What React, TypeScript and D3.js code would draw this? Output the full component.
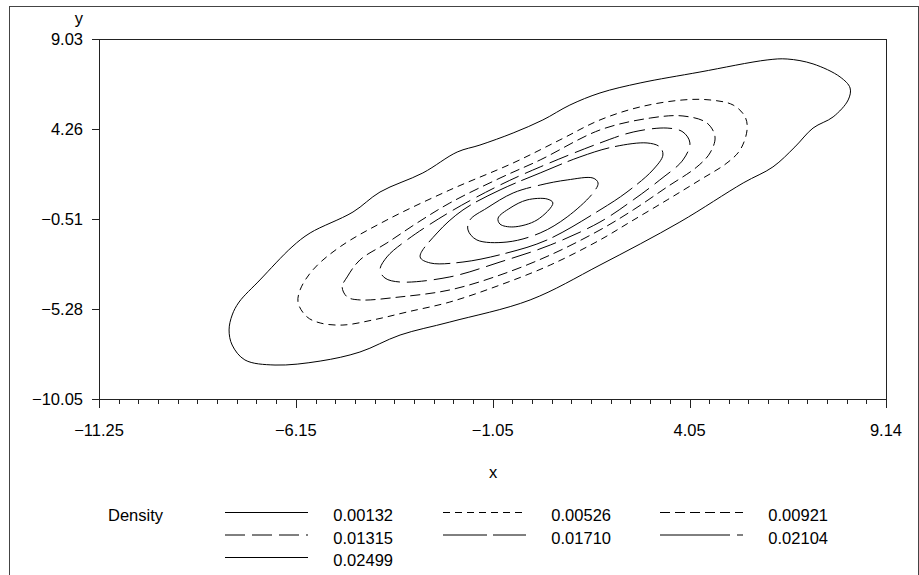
import React, { useEffect, useRef } from "react";
import * as d3 from "d3";

// axis ticks
const xTicks = [-11.25, -6.15, -1.05, 4.05, 9.14];
const yTicks = [-10.05, -5.28, -0.51, 4.26, 9.03];

// contour levels (density)
const levels = [0.00132, 0.00526, 0.00921, 0.01315, 0.0171, 0.02104, 0.02499];

// contour outlines in data units [x, y]
const c00132: [number, number][] = [
  [-7.88, -6.39], [-7.8, -7.19], [-7.47, -7.98], [-6.69, -8.25], [-5.52, -8.04],
  [-4.49, -7.56], [-3.45, -6.66], [-2.16, -5.97], [-0.08, -4.8], [1.73, -2.95],
  [3.8, -0.67], [5.44, 1.4], [6.21, 2.25], [6.78, 3.31], [7.25, 4.31],
  [7.77, 4.9], [8.16, 5.8], [8.21, 6.43], [7.95, 7.02], [7.25, 7.71],
  [6.58, 7.97], [6.06, 7.92], [4.32, 7.28], [2.77, 6.7], [1.73, 6.17],
  [0.95, 5.53], [0.25, 4.74], [-0.52, 4.05], [-1.38, 3.41], [-1.97, 3.04],
  [-2.86, 1.93], [-3.97, 0.92], [-4.67, -0.14], [-5.78, -1.25], [-6.25, -1.99],
  [-7.08, -3.74], [-7.62, -4.91], [-7.8, -5.6],
];
const c00526: [number, number][] = [
  [-6.09, -4.96], [-6.04, -4.27], [-5.71, -3.21], [-5.01, -1.99], [-3.79, -0.56],
  [-2.16, 1.03], [-0.52, 2.46], [0.69, 3.68], [1.73, 4.74], [2.77, 5.43],
  [3.88, 5.8], [4.58, 5.8], [5.18, 5.53], [5.49, 4.9], [5.54, 4.21],
  [5.36, 3.15], [5.02, 2.46], [4.32, 1.56], [3.47, 0.5], [2.51, -0.67],
  [1.73, -1.62], [0.44, -2.95], [-0.86, -4.01], [-2.16, -4.91], [-3.27, -5.44],
  [-4.15, -5.86], [-4.93, -6.13], [-5.52, -6.02], [-5.86, -5.7],
];
const c00921: [number, number][] = [
  [-4.95, -4.11], [-4.82, -3.58], [-4.49, -2.68], [-3.79, -1.78], [-3.01, -0.72],
  [-2.16, 0.34], [-0.86, 1.66], [0.18, 2.62], [1.73, 4.21], [3.03, 4.84],
  [3.88, 4.95], [4.5, 4.58], [4.71, 3.84], [4.58, 2.99], [4.24, 2.25],
  [3.47, 1.19], [2.59, -0.03], [1.73, -1.09], [0.44, -2.42], [-0.86, -3.48],
  [-2.16, -4.27], [-3.45, -4.64], [-4.49, -4.8], [-4.82, -4.64],
];
const c01315: [number, number][] = [
  [-3.97, -3.21], [-3.79, -2.52], [-3.27, -1.62], [-2.16, -0.14], [-0.86, 1.29],
  [0.18, 2.25], [1.73, 3.52], [2.59, 4.1], [3.47, 4.31], [3.88, 4.1],
  [4.06, 3.52], [3.88, 2.62], [3.28, 1.56], [2.59, 0.5], [1.73, -0.67],
  [0.44, -1.89], [-0.86, -2.79], [-2.16, -3.58], [-3.45, -3.85], [-3.84, -3.64],
];
const c01710: [number, number][] = [
  [-2.93, -2.52], [-2.49, -1.25], [-1.82, -0.03], [-0.86, 1.03], [0.18, 1.93],
  [1.21, 2.78], [2.07, 3.31], [2.95, 3.52], [3.28, 3.31], [3.36, 2.88],
  [3.1, 2.09], [2.43, 0.92], [1.73, -0.03], [0.36, -1.62], [-0.68, -2.31],
  [-1.82, -2.79], [-2.67, -2.84],
];
const c02104: [number, number][] = [
  [-1.69, -1.09], [-1.64, -0.56], [-1.2, 0.07], [-0.52, 0.87], [0.18, 1.29],
  [0.88, 1.56], [1.55, 1.66], [1.68, 1.4], [1.55, 0.87], [0.88, -0.4],
  [0.18, -1.25], [-0.68, -1.73], [-1.46, -1.62],
];
const c02499: [number, number][] = [
  [-0.91, -0.46], [-0.6, 0.07], [-0.16, 0.5], [0.36, 0.55], [0.51, 0.34],
  [0.1, -0.56], [-0.52, -0.93], [-0.86, -0.78],
];

const contours = [c00132, c00526, c00921, c01315, c01710, c02104, c02499];
const dashes = ["", "7,5", "10,5", "20,7", "44,6", "70,7", ""];

const font = "'Liberation Sans', Arial, Helvetica, sans-serif";

const App: React.FC = () => {
  const svgRef = useRef<SVGSVGElement | null>(null);

  useEffect(() => {
    const svg = d3.select(svgRef.current);
    svg.selectAll("*").remove();

    const left = 99, right = 886, top = 39, bottom = 399;
    const x = d3.scaleLinear().domain([-11.25, 9.14]).range([left, right]);
    const y = d3.scaleLinear().domain([-10.05, 9.03]).range([bottom, top]);

    // outer border
    svg.append("rect")
      .attr("x", 9.5).attr("y", 6.5)
      .attr("width", 909).attr("height", 600)
      .attr("fill", "none").attr("stroke", "#444");

    // plot frame
    svg.append("rect")
      .attr("x", left + 0.5).attr("y", top + 0.5)
      .attr("width", right - left).attr("height", bottom - top)
      .attr("fill", "none").attr("stroke", "#222");

    // contours
    const line = d3.line<[number, number]>()
      .x((d) => x(d[0]))
      .y((d) => y(d[1]))
      .curve(d3.curveCatmullRomClosed.alpha(0.5));

    contours.forEach((c, i) => {
      svg.append("path")
        .attr("d", line(c) || "")
        .attr("fill", "none")
        .attr("stroke", "#000")
        .attr("stroke-width", 1)
        .attr("stroke-dasharray", dashes[i] || null);
    });

    const fmt = (v: number) => (v < 0 ? "\u2212" + Math.abs(v).toFixed(2) : v.toFixed(2));

    // y axis ticks + labels
    yTicks.forEach((t) => {
      svg.append("line")
        .attr("x1", left - 7).attr("x2", left)
        .attr("y1", Math.round(y(t)) + 0.5).attr("y2", Math.round(y(t)) + 0.5)
        .attr("stroke", "#222");
      svg.append("text")
        .attr("x", 83).attr("y", y(t) + 6)
        .attr("text-anchor", "end")
        .style("font-family", font).style("font-size", "16.5px")
        .text(fmt(t));
    });

    // x axis minor ticks
    for (let i = 0; i < xTicks.length - 1; i++) {
      const step = (xTicks[i + 1] - xTicks[i]) / 10;
      for (let k = 1; k < 10; k++) {
        const px = Math.round(x(xTicks[i] + k * step)) + 0.5;
        svg.append("line")
          .attr("x1", px).attr("x2", px)
          .attr("y1", bottom).attr("y2", bottom + 5)
          .attr("stroke", "#222");
      }
    }
    // x axis major ticks + labels
    xTicks.forEach((t) => {
      const px = Math.round(x(t)) + 0.5;
      svg.append("line")
        .attr("x1", px).attr("x2", px)
        .attr("y1", bottom).attr("y2", bottom + 9)
        .attr("stroke", "#222");
      svg.append("text")
        .attr("x", x(t)).attr("y", 436)
        .attr("text-anchor", "middle")
        .style("font-family", font).style("font-size", "16.5px")
        .text(fmt(t));
    });

    // axis titles
    svg.append("text")
      .attr("x", 83).attr("y", 24).attr("text-anchor", "end")
      .style("font-family", font).style("font-size", "16.5px")
      .text("y");
    svg.append("text")
      .attr("x", 493).attr("y", 478).attr("text-anchor", "middle")
      .style("font-family", font).style("font-size", "16.5px")
      .text("x");

    // legend
    svg.append("text")
      .attr("x", 108).attr("y", 521)
      .style("font-family", font).style("font-size", "16.5px")
      .text("Density");

    const colX = [225, 443, 660];
    const textX = [393, 611, 828];
    levels.forEach((lv, i) => {
      const col = i % 3;
      const row = Math.floor(i / 3);
      const ly = 512.5 + row * 22.5;
      svg.append("line")
        .attr("x1", colX[col]).attr("x2", colX[col] + 83)
        .attr("y1", ly).attr("y2", ly)
        .attr("stroke", "#000")
        .attr("stroke-dasharray", dashes[i] || null);
      svg.append("text")
        .attr("x", textX[col]).attr("y", ly + 8.5)
        .attr("text-anchor", "end")
        .style("font-family", font).style("font-size", "16.5px")
        .text(lv.toFixed(5));
    });
  }, []);

  return (
    <div style={{ position: "absolute", left: 0, top: 0 }}>
      <svg ref={svgRef} width={919} height={575} style={{ display: "block", background: "#fff" }}></svg>
    </div>
  );
};

export default App;
